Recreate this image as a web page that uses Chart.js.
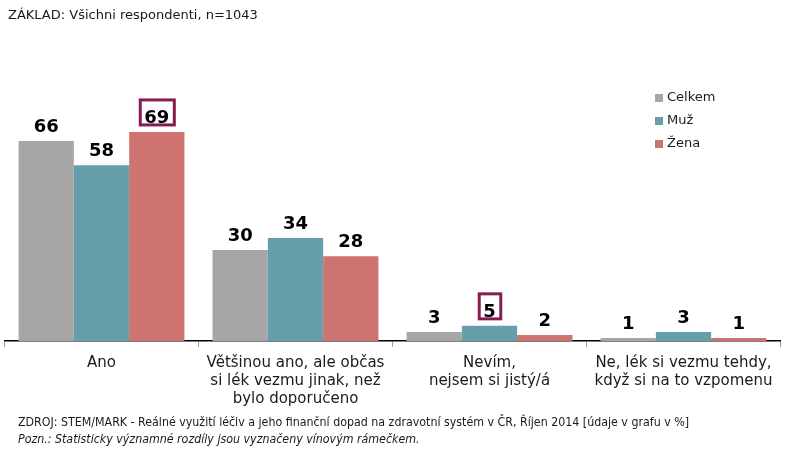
<!DOCTYPE html>
<html><head><meta charset="utf-8">
<script src="https://cdn.jsdelivr.net/npm/chart.js@4/dist/chart.umd.min.js"></script>
<style>
html,body{margin:0;padding:0;background:#fff;}
#wrap{position:relative;width:804px;height:457px;overflow:hidden;}
#c{position:absolute;left:0;top:0;}
.t{position:absolute;white-space:nowrap;color:#1a1a1a;}
#title{left:8px;top:7px;font:13px "DejaVu Sans",Verdana,sans-serif;}
#src{left:18px;top:415px;font:12.3px "DejaVu Sans Condensed","DejaVu Sans",sans-serif;}
#note{left:18px;top:432px;font:italic 12.3px "DejaVu Sans Condensed","DejaVu Sans",sans-serif;}
</style></head>
<body><div id="wrap">
<canvas id="c" width="804" height="457"></canvas>
<div class="t" id="title">ZÁKLAD: Všichni respondenti, n=1043</div>
<div class="t" id="src">ZDROJ: STEM/MARK - Reálné využití léčiv a jeho finanční dopad na zdravotní systém v ČR, Říjen 2014 [údaje v grafu v %]</div>
<div class="t" id="note">Pozn.: Statisticky významné rozdíly jsou vyznačeny vínovým rámečkem.</div>
</div>
<script>
const categories = [
  ["Ano"],
  ["Většinou ano, ale občas","si lék vezmu jinak, než","bylo doporučeno"],
  ["Nevím,","nejsem si jistý/á"],
  ["Ne, lék si vezmu tehdy,","když si na to vzpomenu"]
];
const seriesNames = ["Celkem","Muž","Žena"];
const celkem = [66,30,3,1];
const muz = [58,34,5,3];
const zena = [69,28,2,1];
const celkemSig = [false,false,false,false];
const muzSig = [false,false,true,false];
const zenaSig = [true,false,false,false];

const colors = ["#a6a6a6","#679eab","#cf7370"];
const boxColor = "#861d4f";

const labelPlugin = {
  id:'labels',
  afterDatasetsDraw(chart){
    const ctx = chart.ctx;
    ctx.save();
    ctx.font = 'bold 18px "DejaVu Sans", Verdana, sans-serif';
    ctx.fillStyle = '#000';
    ctx.textAlign = 'center';
    ctx.textBaseline = 'alphabetic';
    chart.data.datasets.forEach((ds,di)=>{
      const meta = chart.getDatasetMeta(di);
      meta.data.forEach((bar,i)=>{
        const txt = String(ds.data[i]);
        const base = bar.y - 9;
        ctx.fillText(txt, bar.x, base);
        if (ds.sig[i]) {
          const w = ctx.measureText(txt).width;
          const cap = 13;
          ctx.strokeStyle = boxColor;
          ctx.lineWidth = 3;
          const l = bar.x - w/2 - 4, r = bar.x + w/2 + 5;
          const t = base - cap - 10, b = base + 2;
          ctx.strokeRect(l, t, r-l, b-t);
        }
      });
    });
    ctx.restore();
  }
};

const legendPlugin = {
  id:'customLegend',
  afterDraw(chart){
    const ctx = chart.ctx;
    ctx.save();
    ctx.font = '13px "DejaVu Sans", Verdana, sans-serif';
    ctx.textBaseline = 'middle';
    chart.data.datasets.forEach((ds,i)=>{
      const y = 98 + i*23;
      ctx.fillStyle = ds.backgroundColor;
      ctx.fillRect(655, y-4, 8, 8);
      ctx.fillStyle = '#1a1a1a';
      ctx.fillText(ds.label, 667, y);
    });
    ctx.restore();
  }
};

new Chart(document.getElementById('c'), {
  type:'bar',
  data:{
    labels: categories,
    datasets:[
      {label:seriesNames[0], data:celkem, sig:celkemSig, backgroundColor:colors[0]},
      {label:seriesNames[1], data:muz, sig:muzSig, backgroundColor:colors[1]},
      {label:seriesNames[2], data:zena, sig:zenaSig, backgroundColor:colors[2]}
    ]
  },
  options:{
    responsive:false,
    animation:false,
    devicePixelRatio:1,
    layout:{padding:{left:4.5,right:23.5,top:38,bottom:0}},
    datasets:{bar:{categoryPercentage:0.855, barPercentage:1}},
    plugins:{legend:{display:false}, tooltip:{enabled:false}},
    scales:{
      x:{
        grid:{offset:true, drawOnChartArea:false, tickLength:6, color:'#999'},
        border:{color:'#000', width:1.5},
        ticks:{padding:7, color:'#1a1a1a', font:{family:'"DejaVu Sans", Verdana, sans-serif', size:15, lineHeight:1.2}, maxRotation:0, autoSkip:false},
        afterFit(s){ s.height = 116; }
      },
      y:{display:false, min:0, max:100}
    }
  },
  plugins:[labelPlugin, legendPlugin]
});
</script>
</body></html>
